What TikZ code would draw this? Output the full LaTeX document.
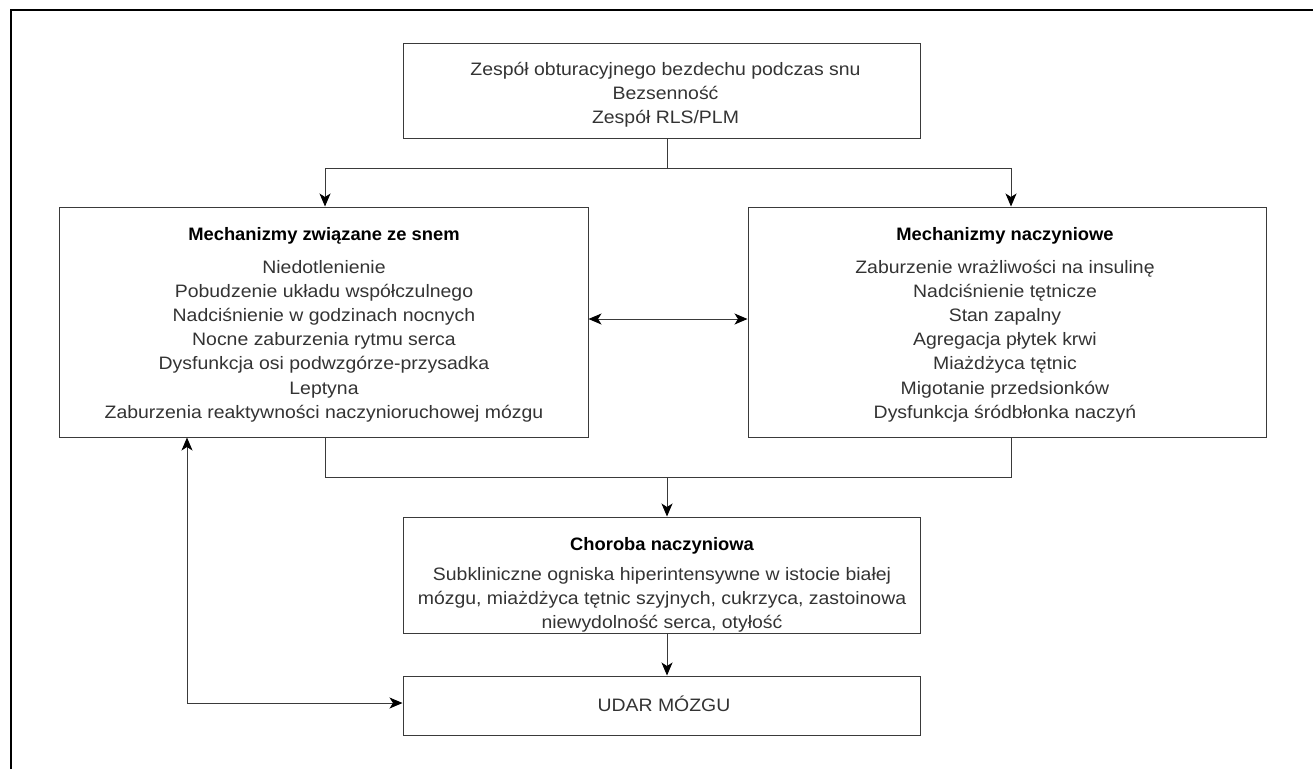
\documentclass[tikz,border=0pt]{standalone}
\usepackage{fontspec}
\setmainfont[FakeStretch=1.08]{Liberation Sans}
\newfontfamily\titlefont[FakeStretch=1.02]{Liberation Sans}
\usetikzlibrary{arrows.meta}
\definecolor{txt}{HTML}{333333}
\definecolor{edge}{HTML}{3A3A3A}
\tikzset{
  box/.style={draw=edge, line width=1pt, rectangle, inner sep=0pt},
  body/.style={align=center, inner sep=0pt, text=txt, font=\fontsize{18}{24.2}\selectfont},
  ttl/.style={align=center, inner sep=0pt, text=black, font=\titlefont\bfseries\fontsize{18}{24}\selectfont},
  conn/.style={draw=edge, line width=1pt},
  arr/.style={conn, -{Stealth[length=13pt,width=11pt,inset=3.5pt,color=black]}},
  darr/.style={conn, {Stealth[length=13pt,width=11pt,inset=3.5pt,color=black]}-{Stealth[length=13pt,width=11pt,inset=3.5pt,color=black]}}
}
\begin{document}
\begin{tikzpicture}[x=1pt,y=-1pt]
\useasboundingbox (0,0) rectangle (1313,769);
% outer frame (cropped)
\draw[line width=1.6pt] (11,769) -- (11,10) -- (1313,10);

% boxes
\node[box, minimum width=517pt, minimum height=95pt] (top) at (661.5,90.5) {};
\node[box, minimum width=529pt, minimum height=230pt] (left) at (323.5,322) {};
\node[box, minimum width=518pt, minimum height=230pt] (right) at (1007,322) {};
\node[box, minimum width=517pt, minimum height=116pt] (chor) at (661.5,575) {};
\node[box, minimum width=517pt, minimum height=59pt] (udar) at (661.5,705.5) {};

% texts
\node[body] (ttop) at (665.5,95) {Zespół obturacyjnego bezdechu podczas snu\\Bezsenność\\Zespół RLS/PLM};
\node[ttl] (tlefth) at (324,236) {Mechanizmy związane ze snem};
\node[body] (tleft) at (324,341) {Niedotlenienie\\Pobudzenie układu współczulnego\\Nadciśnienie w godzinach nocnych\\Nocne zaburzenia rytmu serca\\Dysfunkcja osi podwzgórze-przysadka\\Leptyna\\Zaburzenia reaktywności naczynioruchowej mózgu};
\node[ttl] (trighth) at (1005,236) {Mechanizmy naczyniowe};
\node[body] (tright) at (1005,341) {Zaburzenie wrażliwości na insulinę\\Nadciśnienie tętnicze\\Stan zapalny\\Agregacja płytek krwi\\Miażdżyca tętnic\\Migotanie przedsionków\\Dysfunkcja śródbłonka naczyń};
\node[ttl] (tchorh) at (662,546) {Choroba naczyniowa};
\node[body] (tchor) at (662,600) {Subkliniczne ogniska hiperintensywne w istocie białej\\mózgu, miażdżyca tętnic szyjnych, cukrzyca, zastoinowa\\niewydolność serca, otyłość};
\node[body] (tudar) at (664,704) {UDAR MÓZGU};

% junction coordinates
\coordinate (j1) at (667,168);
\coordinate (j2) at (667,477);
\coordinate (la) at (325,0);
\coordinate (ra) at (1011,0);
\coordinate (lf) at (187,0);
\coordinate (mid) at (0,319);
\coordinate (uw) at (0,703);

% connectors
\draw[conn] (top.south -| j1) -- (j1);
\draw[arr] (j1) -| (left.north -| la);
\draw[arr] (j1) -| (right.north -| ra);
\draw[darr] (left.east |- mid) -- (right.west |- mid);
\draw[conn] (left.south -| la) |- (j2);
\draw[conn] (right.south -| ra) |- (j2);
\draw[arr] (j2) -- (chor.north -| j2);
\draw[arr] (chor.south -| j2) -- (udar.north -| j2);
\draw[darr] (left.south -| lf) |- (udar.west |- uw);
\end{tikzpicture}
\end{document}
